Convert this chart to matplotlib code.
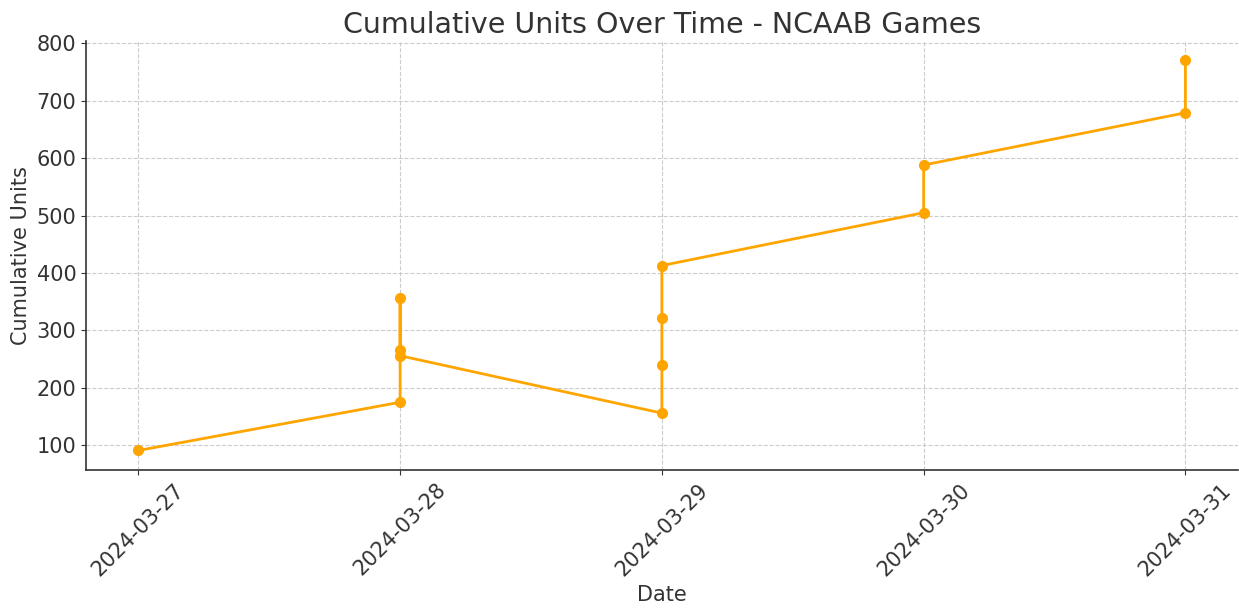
import matplotlib
matplotlib.use('Agg')
import matplotlib.pyplot as plt
import matplotlib.dates as mdates
import pandas as pd

# one entry per game, in the order they were recorded
dates = ['2024-03-27',
         '2024-03-28', '2024-03-28', '2024-03-28', '2024-03-28',
         '2024-03-29', '2024-03-29', '2024-03-29', '2024-03-29',
         '2024-03-30', '2024-03-30',
         '2024-03-31', '2024-03-31']
cumulative_units = [91,
                    175, 266, 356, 256,
                    156, 239, 322, 413,
                    505, 588,
                    679, 770]

x = pd.to_datetime(dates)

text_color = '#333333'
plt.rcParams['text.color'] = text_color
plt.rcParams['axes.labelcolor'] = text_color
plt.rcParams['xtick.color'] = text_color
plt.rcParams['ytick.color'] = text_color

fig = plt.figure(figsize=(12.39, 6.11), dpi=100)
ax = fig.add_axes([0.0694, 0.2308, 0.9296, 0.7021])
ax.plot(x, cumulative_units, color='orange', marker='o', linewidth=2, markersize=7)

ax.set_title('Cumulative Units Over Time - NCAAB Games', fontsize=20.5, pad=6)
ax.set_xlabel('Date', fontsize=15)
ax.set_ylabel('Cumulative Units', fontsize=15)
ax.xaxis.set_major_locator(mdates.DayLocator())
ax.xaxis.set_major_formatter(mdates.DateFormatter('%Y-%m-%d'))
ax.tick_params(axis='both', labelsize=15)
plt.setp(ax.get_xticklabels(), rotation=45, ha='center')
ax.grid(True, linestyle='--', color='#cccccc', linewidth=0.8)
ax.spines['top'].set_visible(False)
ax.spines['right'].set_visible(False)
for s in ['left', 'bottom']:
    ax.spines[s].set_color(text_color)
    ax.spines[s].set_linewidth(1.2)

fig.savefig('out.png', dpi=100)
plt.close(fig)
